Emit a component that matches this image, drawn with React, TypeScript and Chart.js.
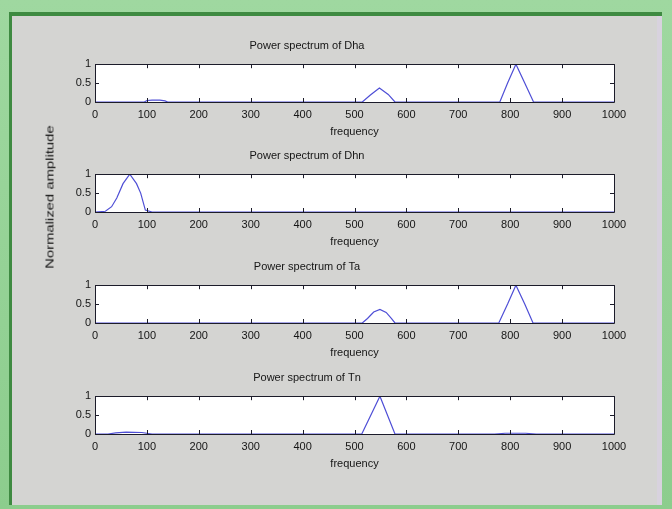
import React, { useEffect, useRef } from "react";
import { Chart, registerables } from "chart.js";

Chart.register(...registerables);

// ---- data ----
const frequencyTicks = [0, 100, 200, 300, 400, 500, 600, 700, 800, 900, 1000];
const amplitudeTicks = [0, 0.5, 1];

const titles = [
  "Power spectrum of Dha",
  "Power spectrum of Dhn",
  "Power spectrum of Ta",
  "Power spectrum of Tn",
];
const xAxisLabel = "frequency";
const yAxisLabel = "Normalized amplitude";

const dhaFreq = [0, 95, 100, 110, 125, 135, 140, 515, 530, 548, 565, 578, 780, 795, 811, 828, 845, 1000];
const dhaAmp = [0, 0, 0.04, 0.05, 0.05, 0.03, 0, 0, 0.18, 0.37, 0.2, 0, 0, 0.5, 1.0, 0.5, 0, 0];

const dhnFreq = [0, 20, 32, 42, 54, 67, 80, 88, 97, 110, 1000];
const dhnAmp = [0, 0.02, 0.14, 0.37, 0.75, 1.0, 0.75, 0.5, 0.05, 0, 0];

const taFreq = [0, 515, 525, 537, 549, 561, 571, 578, 778, 795, 811, 828, 844, 1000];
const taAmp = [0, 0, 0.12, 0.29, 0.36, 0.28, 0.12, 0, 0, 0.5, 1.0, 0.5, 0, 0];

const tnFreq = [0, 25, 40, 60, 90, 110, 514, 549, 578, 770, 790, 830, 850, 1000];
const tnAmp = [0, 0, 0.03, 0.05, 0.04, 0, 0, 1.0, 0, 0, 0.02, 0.02, 0, 0];

const seriesFreq = [dhaFreq, dhnFreq, taFreq, tnFreq];
const seriesAmp = [dhaAmp, dhnAmp, taAmp, tnAmp];

// ---- style ----
const FONT = '"Liberation Sans", Arial, sans-serif';
const TEXT = "#151515";
const LINE = "#4f4fd6";
const BOX = "#1c1c2a";
const CANVAS_W = 672;
const CANVAS_H = 104;
const CANVAS_TOPS = [38, 148, 259, 370];

const boxPlugin = {
  id: "matlabBox",
  beforeDatasetsDraw(chart: any) {
    const { ctx, chartArea } = chart;
    ctx.save();
    ctx.fillStyle = "#ffffff";
    ctx.fillRect(chartArea.left, chartArea.top, chartArea.right - chartArea.left, chartArea.bottom - chartArea.top);
    ctx.restore();
  },
  afterDatasetsDraw(chart: any) {
    const { ctx, chartArea, scales } = chart;
    const { left, right, top, bottom } = chartArea;
    ctx.save();
    ctx.strokeStyle = BOX;
    ctx.lineWidth = 1;
    ctx.beginPath();
    ctx.rect(Math.round(left) + 0.5, Math.round(top) + 0.5, Math.round(right - left), Math.round(bottom - top));
    ctx.stroke();
    ctx.beginPath();
    for (const v of frequencyTicks) {
      const px = Math.round(scales.x.getPixelForValue(v)) + 0.5;
      ctx.moveTo(px, bottom);
      ctx.lineTo(px, bottom - 4);
      ctx.moveTo(px, top);
      ctx.lineTo(px, top + 4);
    }
    for (const v of amplitudeTicks) {
      const py = Math.round(scales.y.getPixelForValue(v)) + 0.5;
      ctx.moveTo(left, py);
      ctx.lineTo(left + 4, py);
      ctx.moveTo(right, py);
      ctx.lineTo(right - 4, py);
    }
    ctx.stroke();
    ctx.restore();
  },
};

function SpectrumPlot({ index }: { index: number }) {
  const ref = useRef<HTMLCanvasElement | null>(null);
  useEffect(() => {
    if (!ref.current) return;
    const points = seriesFreq[index].map((f, i) => ({ x: f, y: seriesAmp[index][i] }));
    const chart = new Chart(ref.current, {
      type: "line",
      data: {
        datasets: [
          {
            data: points,
            borderColor: LINE,
            borderWidth: 1.2,
            pointRadius: 0,
            tension: 0,
            fill: false,
          },
        ],
      },
      options: {
        animation: false,
        responsive: false,
        maintainAspectRatio: false,
        layout: { padding: { left: 0, right: 58, top: 0, bottom: 0 } },
        plugins: {
          legend: { display: false },
          tooltip: { enabled: false },
          title: {
            display: true,
            text: titles[index],
            color: TEXT,
            font: { family: FONT, size: 11, weight: "normal" },
            padding: { top: 1, bottom: 12 },
          },
        },
        scales: {
          x: {
            type: "linear",
            min: 0,
            max: 1000,
            afterBuildTicks: (scale: any) => {
              scale.ticks = frequencyTicks.map((v) => ({ value: v }));
            },
            ticks: {
              color: TEXT,
              font: { family: FONT, size: 11 },
              padding: 6,
              maxRotation: 0,
              autoSkip: false,
              callback: (v: any) => String(v),
            },
            grid: { display: false, drawTicks: false },
            border: { display: false },
            title: {
              display: true,
              text: xAxisLabel,
              color: TEXT,
              font: { family: FONT, size: 11 },
              padding: { top: 0, bottom: 3 },
            },
            afterFit: (scale: any) => {
              scale.height = 40;
            },
          },
          y: {
            type: "linear",
            min: 0,
            max: 1,
            afterBuildTicks: (scale: any) => {
              scale.ticks = amplitudeTicks.map((v) => ({ value: v }));
            },
            ticks: {
              color: TEXT,
              font: { family: FONT, size: 11 },
              padding: 4,
              autoSkip: false,
              callback: (v: any) => String(v),
            },
            grid: { display: false, drawTicks: false },
            border: { display: false },
            afterFit: (scale: any) => {
              scale.width = 95;
            },
          },
        },
      },
      plugins: [boxPlugin],
    });
    return () => chart.destroy();
  }, [index]);
  return (
    <canvas
      ref={ref}
      width={CANVAS_W}
      height={CANVAS_H}
      style={{ position: "absolute", left: 0, top: CANVAS_TOPS[index], width: CANVAS_W, height: CANVAS_H }}
    />
  );
}

export default function App() {
  return (
    <div
      style={{
        position: "absolute",
        left: 0,
        top: 0,
        width: 672,
        height: 509,
        overflow: "hidden",
        background: "linear-gradient(180deg, #9fd8a0 0%, #8ccd8d 100%)",
      }}
    >
      <div
        style={{
          position: "absolute",
          left: 9,
          top: 12,
          width: 650,
          height: 489,
          borderLeft: "3px solid #3e8a41",
          borderTop: "4px solid #3e8a41",
          background: "#d4d4d2",
        }}
      />
      <div style={{ position: "absolute", left: 657, top: 16, width: 5, height: 489, background: "#d8d2de" }} />
      {titles.map((_, i) => (
        <SpectrumPlot key={i} index={i} />
      ))}
      <div
        style={{
          position: "absolute",
          left: 50,
          top: 197,
          transform: "translate(-50%, -50%) rotate(-90deg) scaleX(1.35)",
          whiteSpace: "nowrap",
          fontFamily: FONT,
          fontSize: 11,
          color: TEXT,
          lineHeight: "13px",
        }}
      >
        {yAxisLabel}
      </div>
    </div>
  );
}
